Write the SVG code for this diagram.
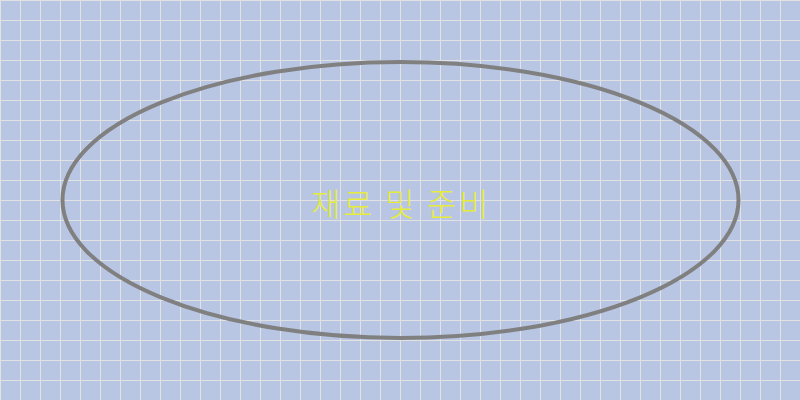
<svg xmlns="http://www.w3.org/2000/svg" width="800" height="400" viewBox="0 0 800 400">
  <defs>
    <pattern id="grid" width="20" height="20" patternUnits="userSpaceOnUse">
      <rect width="20" height="20" fill="#b8c6e3"/>
      <path d="M0 0.5H20M0.5 0V20" stroke="#e2e2e2" stroke-width="1" fill="none"/>
    </pattern>
    <style>
      .node-shape { fill: none; stroke: #808080; stroke-width: 4; }
      .label { font-family: "Noto Sans CJK KR", "Noto Sans", sans-serif; font-size: 32px; font-weight: 300; letter-spacing: 2.7px; fill: #e6ec3c; text-anchor: middle; }
    </style>
  </defs>
  <rect width="800" height="400" fill="url(#grid)"/>
  <g id="connectors"></g>
  <g id="node-main">
    <ellipse class="node-shape" cx="400.5" cy="200" rx="338" ry="138"/>
    <text class="label" x="401" y="216">재료 및 준비</text>
  </g>
</svg>
